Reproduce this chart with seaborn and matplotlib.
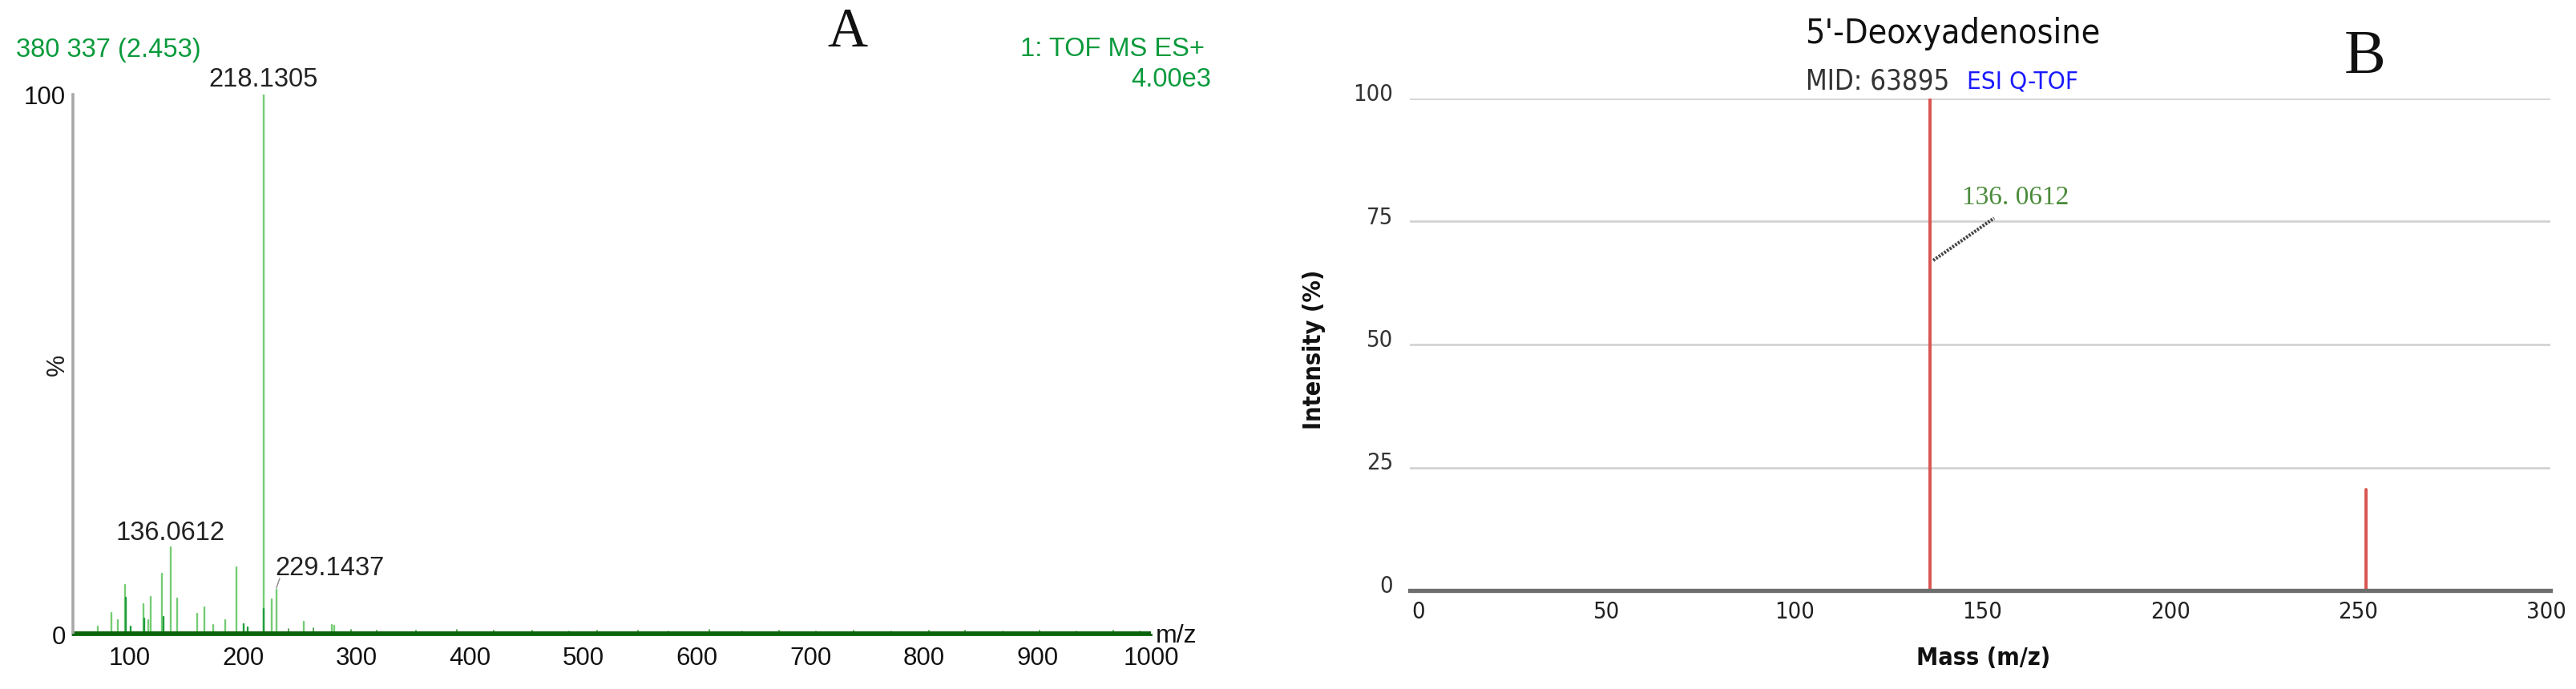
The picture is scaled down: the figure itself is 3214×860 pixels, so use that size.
import matplotlib
matplotlib.use('Agg')
import pandas as pd
import matplotlib.pyplot as plt
import matplotlib.transforms as mtransforms
import seaborn as sns
from matplotlib import font_manager
from matplotlib.ticker import MultipleLocator, FixedLocator, FuncFormatter

# panel A - TOF MS ES+ spectrum (m/z, % intensity, shade)
mz_a = [71.6, 83.6, 89.5, 96.2, 96.4, 101.0, 112.4, 112.6, 116.4, 118.3,
        128.3, 130.0, 136.0612, 142.0, 159.4, 165.7, 173.6, 184.3, 193.8,
        200.2, 204.0, 218.1305, 218.3, 225.2, 229.1437, 253.2, 278.0, 280.6]
int_a = [1.5, 4.0, 2.7, 9.2, 6.8, 1.5, 5.6, 3.0, 2.7, 7.0,
         11.3, 3.2, 16.1, 6.7, 3.8, 5.1, 1.8, 2.7, 12.4,
         2.0, 1.3, 100.0, 4.7, 6.5, 8.3, 2.3, 1.8, 1.7]
shade_a = ['light', 'light', 'light', 'light', 'dark', 'dark', 'light', 'dark', 'light', 'light',
           'light', 'dark', 'light', 'light', 'light', 'light', 'light', 'light', 'light',
           'dark', 'dark', 'light', 'dark', 'light', 'light', 'light', 'light', 'light']
# small noise peaks along the baseline
mz_noise = [240, 262, 295, 318, 352, 388, 421, 455, 487, 512, 548, 575, 611,
            640, 672, 705, 738, 771, 804, 836, 869, 902, 934, 967, 990]
int_noise = [1.0, 1.2, 0.9, 0.8, 0.7, 0.9, 0.7, 0.8, 0.6, 0.8, 0.7, 0.6, 0.9,
             0.6, 0.7, 0.6, 0.8, 0.6, 0.7, 0.8, 0.6, 0.7, 0.6, 0.7, 0.6]
labels_a = ['218.1305', '136.0612', '229.1437']

# panel B - library spectrum of 5'-Deoxyadenosine
mz_b = [136.0612, 252.1]
int_b = [100.0, 20.5]


def sticks(mz, inten, shade):
    rows = []
    for i, (m, h, s) in enumerate(zip(mz, inten, shade)):
        rows.append((i, m, 0.0, s))
        rows.append((i, m, h, s))
    return pd.DataFrame(rows, columns=['pk', 'mz', 'intensity', 'shade'])


sns.set_style('white')
plt.rcParams['font.family'] = ['Liberation Sans', 'DejaVu Sans']

# narrow font for panel B: use a condensed face when one is installed
fonts = font_manager.fontManager.ttflist
names = {f.name for f in fonts}
has_cond = any(f.name == 'DejaVu Sans' and 'condensed' in str(f.stretch) for f in fonts)
if 'Liberation Sans Narrow' in names:
    narrow, stretch, k = ['Liberation Sans Narrow', 'DejaVu Sans'], 'normal', 1.35
elif has_cond:
    narrow, stretch, k = ['DejaVu Sans'], 'condensed', 1.1
else:
    narrow, stretch, k = ['DejaVu Sans'], 'normal', 1.0
serif = ['Liberation Serif', 'DejaVu Serif']

fig = plt.figure(figsize=(32.14, 8.6), dpi=100)
W, H = 3214.0, 860.0


def fx(px):
    return px / W


def fy(py):
    return 1 - py / H


# ---------------- panel A ----------------
ax1 = fig.add_axes([fx(91), fy(792), fx(1436 - 91), (792 - 118) / H])
df_a = sticks(mz_a, int_a, shade_a)
df_n = sticks(mz_noise, int_noise, ['dark'] * len(mz_noise))
sns.lineplot(data=df_a, x='mz', y='intensity', units='pk', estimator=None, sort=False,
             hue='shade', palette={'light': '#74cc74', 'dark': '#1e9e3c'},
             legend=False, lw=1.7, ax=ax1)
sns.lineplot(data=df_n, x='mz', y='intensity', units='pk', estimator=None, sort=False,
             color='#3a9a3a', legend=False, lw=1.2, ax=ax1)
sns.lineplot(x=[50, 1000], y=[0.35, 0.35], color='#0a640a', lw=3.5, ax=ax1)

ax1.set_xlim(50, 1000)
ax1.set_ylim(0, 100)
ax1.set_xlabel('')
ax1.set_ylabel('')
for s in ['top', 'right']:
    ax1.spines[s].set_visible(False)
ax1.spines['left'].set_color('#a8a8a8')
ax1.spines['left'].set_linewidth(2.6)
ax1.spines['bottom'].set_color('#0a640a')
ax1.spines['bottom'].set_linewidth(2.0)

ax1.xaxis.set_major_locator(MultipleLocator(50))
ax1.xaxis.set_minor_locator(MultipleLocator(10))
ax1.xaxis.set_major_formatter(FuncFormatter(lambda v, p: f'{int(v)}' if v >= 100 and int(v) % 100 == 0 else ''))
ax1.yaxis.set_major_locator(FixedLocator([0, 100]))
ax1.yaxis.set_minor_locator(MultipleLocator(10))
ax1.tick_params(axis='x', which='major', direction='out', length=6, width=1.3,
                color='#707070', labelsize=22.5, labelcolor='#111111', pad=5)
ax1.tick_params(axis='x', which='minor', direction='out', length=3, width=1.0, color='#909090')
ax1.tick_params(axis='y', which='both', direction='out', length=2.5, width=1.2,
                color='#909090', labelsize=22.5, labelcolor='#111111', pad=4)

# peak labels
ax1.text(218.13, 102.7, labels_a[0], ha='center', va='center', fontsize=23.5, color='#222222', clip_on=False)
ax1.text(136.0, 18.8, labels_a[1], ha='center', va='center', fontsize=23.5, color='#222222')
ax1.text(228.6, 12.2, labels_a[2], ha='left', va='center', fontsize=23.5, color='#222222')
ax1.plot([229.3, 232.2], [8.6, 10.4], color='#888888', lw=1.0)

green = '#0a9a3c'
fig.text(fx(20), fy(62), '380 337 (2.453)', ha='left', va='center', fontsize=23.5, color=green)
fig.text(fx(1503), fy(62), '1: TOF MS ES+', ha='right', va='center', fontsize=23.5, color=green)
fig.text(fx(1511), fy(100), '4.00e3', ha='right', va='center', fontsize=23.5, color=green)
fig.text(fx(72), fy(455), '%', ha='center', va='center', rotation=90, fontsize=22, color='#222222')
fig.text(fx(1442), fy(794), 'm/z', ha='left', va='center', fontsize=23, color='#111111')
fig.text(fx(1057), fy(41), 'A', ha='center', va='center', fontsize=50, color='#111111',
         family=serif, fontweight='light')

# ---------------- panel B ----------------
ax2 = fig.add_axes([fx(1759), fy(737), fx(3182 - 1759), (737 - 123) / H])
df_b = sticks(mz_b, int_b, ['lib'] * len(mz_b))
sns.lineplot(data=df_b, x='mz', y='intensity', units='pk', estimator=None, sort=False,
             color='#d9534f', legend=False, lw=2.8, ax=ax2, zorder=3)
ax2.set_xlim(-2.35, 301.07)
ax2.set_ylim(0, 100)
ax2.set_xlabel('')
ax2.set_ylabel('')
ax2.set_xticks([0, 50, 100, 150, 200, 250, 300])
ax2.set_yticks([0, 25, 50, 75, 100])
ax2.grid(axis='y', color='#cfcfcf', lw=1.8)
ax2.grid(axis='x', visible=False)
ax2.set_axisbelow(True)
for s in ['top', 'right', 'left']:
    ax2.spines[s].set_visible(False)
ax2.spines['bottom'].set_color('#6e6e6e')
ax2.spines['bottom'].set_linewidth(3.8)
ax2.spines['bottom'].set_zorder(4)
ax2.tick_params(axis='x', direction='out', length=7, width=1.4, color='#111111',
                labelsize=19 * k, labelcolor='#222222', pad=2)
ax2.tick_params(axis='y', length=0, labelsize=19 * k, labelcolor='#333333', pad=15)
for lab in ax2.get_xticklabels() + ax2.get_yticklabels():
    lab.set_family(narrow)
    lab.set_stretch(stretch)
shift = mtransforms.ScaledTranslation(0, 8 / 100.0, fig.dpi_scale_trans)
for lab in ax2.get_yticklabels():
    lab.set_transform(lab.get_transform() + shift)

# leader line and annotation
ax2.plot([136.9, 153.1], [67.1, 75.7], color='#444444', lw=3.0, ls=(0, (0.6, 0.4)), zorder=5)
ax2.text(144.6, 79.8, '136. 0612', ha='left', va='center', fontsize=24, color='#4b8b3b', family=serif)

fig.text(fx(2436), fy(42), "5'-Deoxyadenosine", ha='center', va='center', fontsize=28 * k,
         color='#111111', family=narrow, stretch=stretch)
fig.text(fx(2253), fy(102), 'MID: 63895', ha='left', va='center', fontsize=22.7 * k,
         color='#333333', family=narrow, stretch=stretch)
fig.text(fx(2454), fy(102), 'ESI Q-TOF', ha='left', va='center', fontsize=20.5 * k,
         color='#1a1aff', family=narrow, stretch=stretch)
fig.text(fx(2951), fy(72), 'B', ha='center', va='center', fontsize=56, color='#111111',
         family=serif, fontweight='light')
fig.text(fx(1640), fy(436), 'Intensity (%)', ha='center', va='center', rotation=90,
         fontsize=20 * k, fontweight='bold', color='#111111', family=narrow, stretch=stretch)
fig.text(fx(2475), fy(822), 'Mass (m/z)', ha='center', va='center', fontsize=20 * k,
         fontweight='bold', color='#111111', family=narrow, stretch=stretch)

fig.savefig('out.png', dpi=100)
